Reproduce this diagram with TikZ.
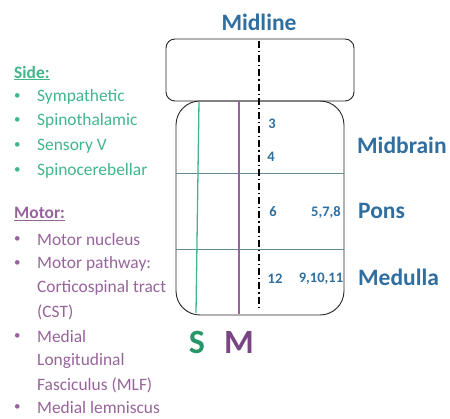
\documentclass[tikz,border=0pt]{standalone}
\usepackage{fontspec}
\setmainfont{Carlito}
\usetikzlibrary{calc}
\definecolor{sidegreen}{RGB}{64,182,138}
\definecolor{sgreen}{RGB}{40,150,105}
\definecolor{motorpurple}{RGB}{150,100,155}
\definecolor{mpurple}{RGB}{120,70,130}
\definecolor{labelblue}{RGB}{47,110,158}
\definecolor{hline}{RGB}{100,140,150}
\tikzset{
  lbl/.style={font=\fontsize{23.5}{26}\selectfont\bfseries, text=labelblue, inner sep=0pt},
  num/.style={font=\fontsize{14.5}{16}\selectfont\bfseries, text=labelblue, inner sep=0pt},
  sidetxt/.style={font=\fontsize{17.4}{20}\selectfont, text=sidegreen, anchor=west, inner sep=0pt},
  motortxt/.style={font=\fontsize{17.4}{20}\selectfont, text=motorpurple, anchor=west, inner sep=0pt},
  bul/.style={font=\fontsize{13}{15}\selectfont, anchor=west, inner sep=0pt},
  boxline/.style={draw=black!85, line width=0.9pt},
  big/.style={font=\fontsize{34}{38}\selectfont\bfseries, inner sep=0pt},
}
\begin{document}
\begin{tikzpicture}[x=1pt,y=-1pt]
\useasboundingbox (0,0) rectangle (450,419);
% top box
\draw[boxline, rounded corners=9pt] (166,39) rectangle (354,101);
% bottom box
\draw[boxline, rounded corners=24pt] (176,101) rectangle (344,315);
% horizontal lines
\coordinate (h1l) at (176,173); \coordinate (h1r) at (344,173);
\coordinate (h2l) at (176,249); \coordinate (h2r) at (344,249);
\draw[hline, line width=0.9pt] (h1l) -- (h1r);
\draw[hline, line width=0.9pt] (h2l) -- (h2r);
% S and M lines
\coordinate (gt) at (199,101); \coordinate (gb) at (196,313);
\coordinate (pt) at (239,101); \coordinate (pb) at (239,314);
\draw[sidegreen, line width=1.3pt] (gt) -- (gb);
\draw[motorpurple, line width=1.3pt] (pt) -- (pb);
% midline
\coordinate (mt) at (259,41); \coordinate (mb) at (259,308);
\draw[black, line width=1.4pt, dash pattern=on 7pt off 3pt on 1.2pt off 3pt] (mt) -- (mb);
% labels
\node[lbl] (midline) at (259,22) {Midline};
\node[lbl, anchor=west] (midbrain) at (357,145) {Midbrain};
\node[lbl, anchor=west] (pons) at (358,211) {Pons};
\node[lbl, anchor=west] (medulla) at (358,277) {Medulla};
% numbers
\node[num] (n3) at (272,124) {3};
\node[num] (n4) at (271,157) {4};
\node[num] (n6) at (273,212) {6};
\node[num] (n578) at (326,212) {5,7,8};
\node[num] (n12) at (275,279) {12};
\node[num] (n91011) at (321,279) {9,10,11};
% S M
\node[big, text=sgreen] (S) at (197,342) {S};
\node[big, text=mpurple] (M) at (239,342) {M};
% side list
\node[sidetxt, font=\fontsize{17.4}{20}\selectfont\bfseries] (side) at (14,73) {\underline{Side:}};
\foreach \y/\t [count=\i] in {97/Sympathetic,121/Spinothalamic,146/Sensory V,171/Spinocerebellar}{
  \node[bul, text=sidegreen] (sb\i) at (14,\y) {•};
  \node[sidetxt] (st\i) at (37,\y) {\t};
}
% motor list
\node[motortxt, font=\fontsize{17.4}{20}\selectfont\bfseries] (motor) at (14,214) {\underline{Motor:}};
\foreach \y in {240,264,337,408}{
  \node[bul, text=motorpurple] at (14,\y) {•};
}
\node[motortxt] (m1) at (37,240) {Motor nucleus};
\node[motortxt] (m2) at (37,264) {Motor pathway:};
\node[motortxt] (m3) at (37,288) {Corticospinal tract};
\node[motortxt] (m4) at (37,312) {(CST)};
\node[motortxt] (m5) at (37,337) {Medial};
\node[motortxt] (m6) at (37,361) {Longitudinal};
\node[motortxt] (m7) at (37,385) {Fasciculus (MLF)};
\node[motortxt] (m8) at (37,408) {Medial lemniscus};
\end{tikzpicture}
\end{document}
